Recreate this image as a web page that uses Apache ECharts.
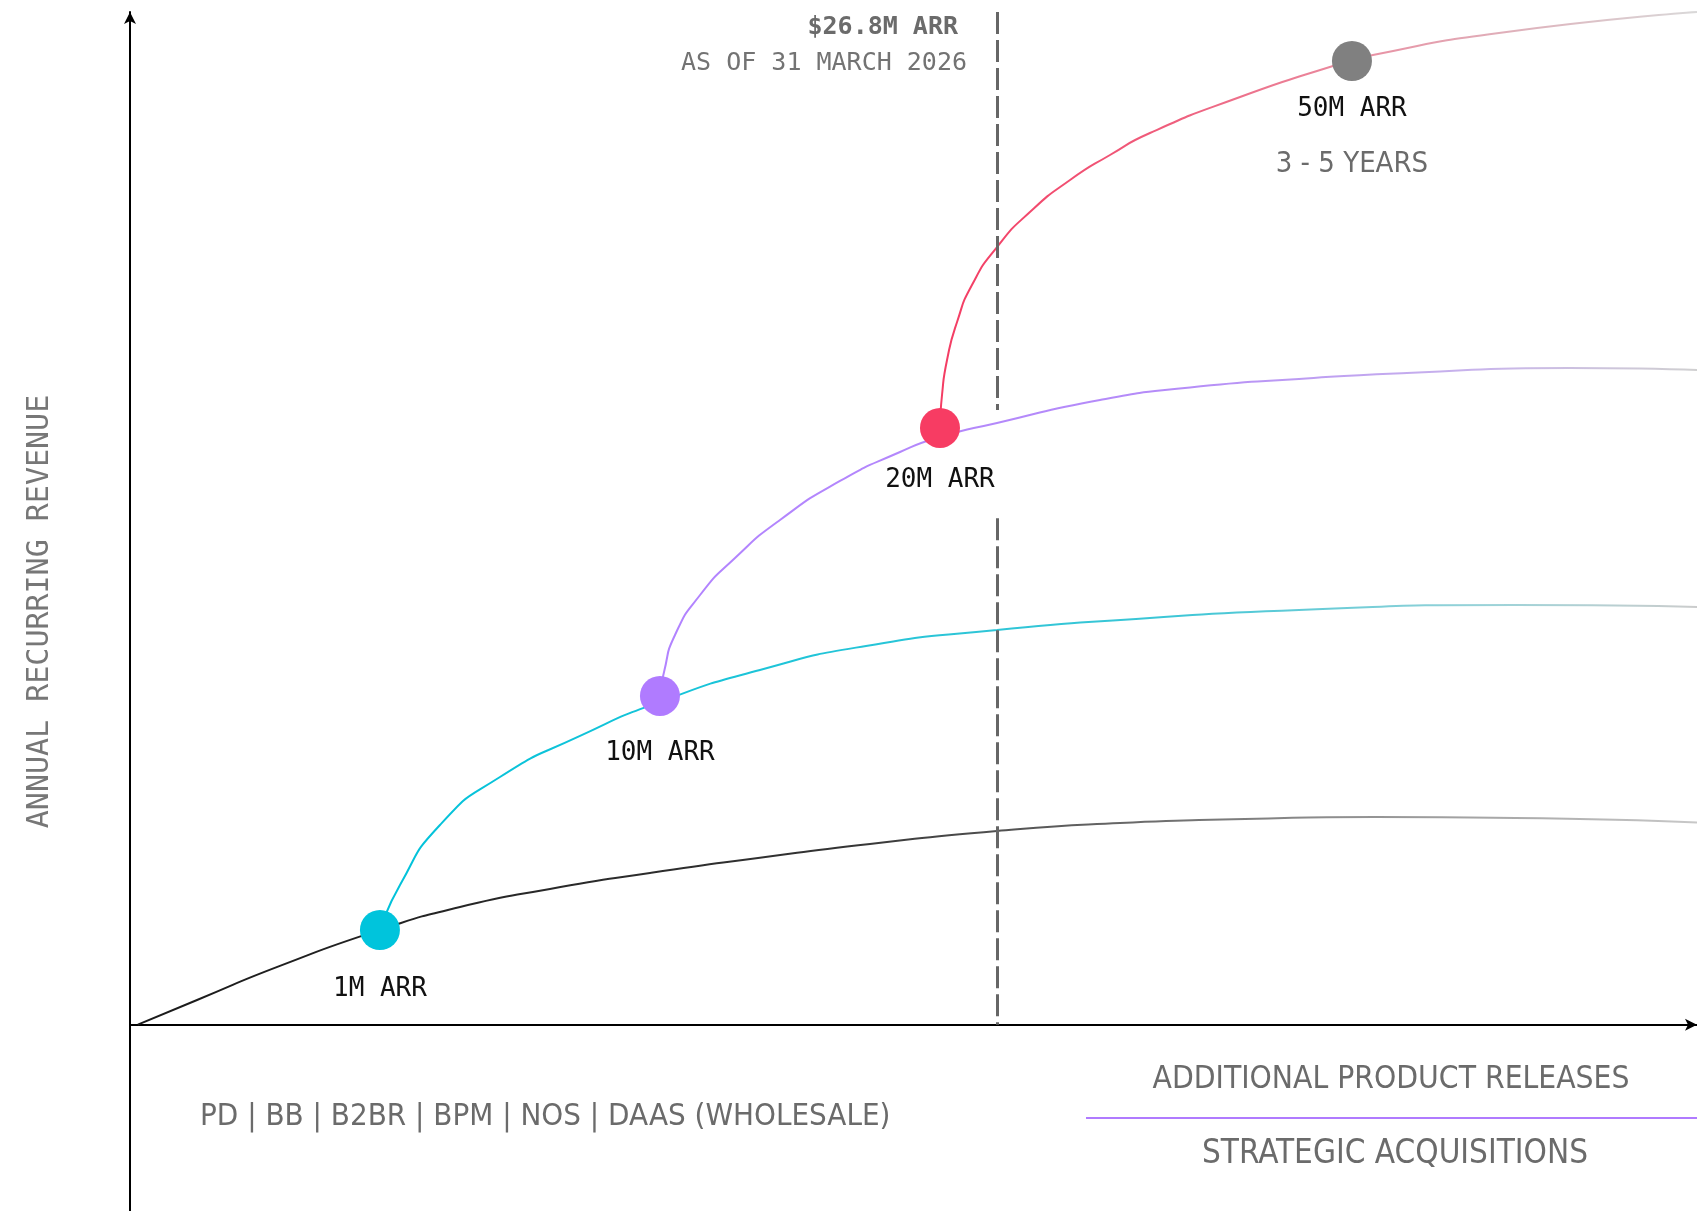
<!DOCTYPE html>
<html>
<head>
    <meta charset="UTF-8">
    <title>ARR growth</title>
    <script src="https://cdn.jsdelivr.net/npm/echarts@6/dist/echarts.min.js"></script>
    <style>
        html, body { margin: 0; padding: 0; background: #fff; }
        #main { width: 1697px; height: 1211px; }
    </style>
</head>
<body>
<div id="main"></div>
<script>
    // curve points, [x, y] in chart units (0-100 each way)
    var baseCurve = [[0.5, 0], [4.28, 2.44], [9.57, 5.8], [15.95, 9.35], [21.06, 11.62], [26.8, 13.4],
        [33.18, 14.98], [40.08, 16.46], [47.22, 17.84], [55.33, 19.13], [63.18, 19.92], [71.16, 20.31],
        [79.45, 20.51], [88.39, 20.41], [100, 19.97]];
    var cyanCurve = [[15.95, 9.35], [17.23, 13.79], [19.78, 19.72], [23.61, 24.46], [28.72, 28.51],
        [33.82, 31.87], [40.2, 35.03], [46.97, 37.4], [55.33, 38.98], [64.2, 40.06], [74.6, 40.95],
        [88.39, 41.44], [100, 41.25]];
    var purpleCurve = [[33.82, 32.46], [34.08, 34.83], [34.78, 38.48], [36.38, 42.43], [38.61, 46.08],
        [41.48, 49.84], [45.31, 53.69], [49.14, 56.55], [51.69, 58.03], [55.33, 59.42], [61.9, 61.69],
        [67.65, 62.92], [74.6, 63.76], [81.49, 64.35], [91.83, 64.85], [100, 64.65]];
    var redCurve = [[51.69, 58.93], [51.82, 62.18], [52.14, 65.64], [52.78, 69.39], [53.73, 73.04],
        [55.33, 76.79], [57.43, 80.25], [59.99, 83.41], [62.54, 85.88], [65.09, 88.05], [70.84, 91.61],
        [76.77, 94.67], [79.32, 95.75], [87.36, 97.93], [100, 100]];

    var milestones = [[15.95, 9.35], [33.82, 32.46], [51.69, 58.93], [77.98, 95.16]];
    var milestoneLabels = ['1M ARR', '10M ARR', '20M ARR', '50M ARR'];
    var milestoneNotes = ['', '', '', '3 - 5 YEARS'];

    // "today" marker: x position and the stretch where the dashes are left out
    var todayX = 55.33;
    var todaySegments = [[100, 60.7], [50.0, 0]];

    var bottomNote = 'PD | BB | B2BR | BPM | NOS | DAAS (WHOLESALE)';
    var legendTop = 'ADDITIONAL PRODUCT RELEASES';
    var legendBottom = 'STRATEGIC ACQUISITIONS';

    var dotColors = ['#00c4dc', '#b07bff', '#f73c63', '#808080'];
    var labelGap = [24, 22, 17, 13];
    var mono = '"DejaVu Sans Mono", "Liberation Mono", monospace';
    var narrow = '"Liberation Sans Narrow", "DejaVu Sans Condensed", Roboto, sans-serif';

    function grad(stops) {
        return new echarts.graphic.LinearGradient(0, 0, 1, 0, stops.map(function (s) {
            return {offset: s[0], color: s[1]};
        }));
    }

    function curve(data, stops) {
        return {
            type: 'line',
            data: data,
            smooth: 0.6,
            symbol: 'none',
            silent: true,
            lineStyle: {width: 2, color: grad(stops)},
            z: 2
        };
    }

    var myChart = echarts.init(document.getElementById('main'));

    var base = curve(baseCurve, [[0, '#1a1a1a'], [0.45, '#333333'], [0.75, '#8a8a8a'], [1, '#c8c8c8']]);
    base.markLine = {
        symbol: 'none',
        silent: true,
        label: {show: false},
        lineStyle: {type: [22, 6], width: 3, color: '#666666'},
        data: todaySegments.map(function (s) {
            return [{coord: [todayX, s[0]]}, {coord: [todayX, s[1]]}];
        })
    };

    var option = {
        animation: false,
        backgroundColor: '#ffffff',
        grid: {left: 130, right: 0, top: 12, bottom: 0, outerBoundsMode: 'none'},
        xAxis: {
            type: 'value',
            min: 0,
            max: 100,
            axisLine: {lineStyle: {color: '#000', width: 2}, symbol: ['none', 'arrow'], symbolSize: [9, 12]},
            axisTick: {show: false},
            axisLabel: {show: false},
            splitLine: {show: false}
        },
        yAxis: {
            type: 'value',
            min: -18.4,
            max: 100,
            name: 'ANNUAL RECURRING REVENUE',
            nameLocation: 'middle',
            nameRotate: 90,
            nameGap: 75,
            nameTextStyle: {fontFamily: mono, fontSize: 30, color: '#777777'},
            axisLine: {lineStyle: {color: '#000', width: 2}, symbol: ['none', 'arrow'], symbolSize: [9, 12]},
            axisTick: {show: false},
            axisLabel: {show: false},
            splitLine: {show: false}
        },
        series: [
            base,
            curve(cyanCurve, [[0, '#00c2da'], [0.6, '#3cc6d6'], [0.85, '#9fd3d8'], [1, '#cccccc']]),
            curve(purpleCurve, [[0, '#b283ff'], [0.5, '#b58cf8'], [0.8, '#c9b6ea'], [1, '#d0d0d0']]),
            curve(redCurve, [[0, '#f43c63'], [0.3, '#ef5d7c'], [0.55, '#e98fa2'], [0.8, '#ddb8c0'], [1, '#d9d9d9']]),
            {
                type: 'scatter',
                symbolSize: 40,
                silent: true,
                z: 5,
                data: milestones.map(function (p, i) {
                    return {
                        value: p,
                        itemStyle: {color: dotColors[i], opacity: 1},
                        label: {distance: labelGap[i]}
                    };
                }),
                label: {
                    show: true,
                    position: 'bottom',
                    formatter: function (p) {
                        var s = '{a|' + milestoneLabels[p.dataIndex] + '}';
                        if (milestoneNotes[p.dataIndex]) s += '\n{b|' + milestoneNotes[p.dataIndex] + '}';
                        return s;
                    },
                    rich: {
                        a: {fontFamily: mono, fontSize: 26, color: '#111111', lineHeight: 30},
                        b: {fontFamily: narrow, fontSize: 29, color: '#6b6b6b', lineHeight: 80}
                    }
                }
            }
        ],
        graphic: [
            {type: 'text', x: 958, y: 27, style: {text: '$26.8M ARR', font: 'bold 25px ' + mono, fill: '#6b6b6b', textAlign: 'right', textVerticalAlign: 'middle'}},
            {type: 'text', x: 967, y: 63, style: {text: 'AS OF 31 MARCH 2026', font: '25px ' + mono, fill: '#737373', textAlign: 'right', textVerticalAlign: 'middle'}},
            {type: 'text', x: 200, y: 1117, style: {text: bottomNote, font: '31px ' + narrow, fill: '#6b6b6b', textAlign: 'left', textVerticalAlign: 'middle'}},
            {type: 'text', x: 1391, y: 1080, style: {text: legendTop, font: '31.5px ' + narrow, fill: '#6b6b6b', textAlign: 'center', textVerticalAlign: 'middle'}},
            {type: 'line', shape: {x1: 1086, y1: 1118, x2: 1697, y2: 1118}, style: {stroke: '#b07bff', lineWidth: 2}},
            {type: 'text', x: 1395, y: 1154, style: {text: legendBottom, font: '33px ' + narrow, fill: '#6b6b6b', textAlign: 'center', textVerticalAlign: 'middle'}}
        ]
    };

    myChart.setOption(option);
</script>
</body>
</html>
